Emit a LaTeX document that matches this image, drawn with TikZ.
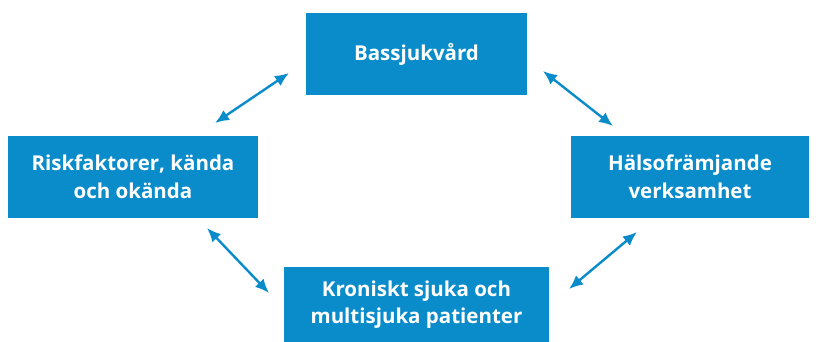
\documentclass[tikz,border=0pt]{standalone}
\usepackage{fontspec}
\setmainfont{Open Sans}
\usetikzlibrary{arrows.meta}
\definecolor{boxblue}{HTML}{0A8BCA}
\begin{document}
\begin{tikzpicture}[x=1pt,y=-1pt,
  box/.style={fill=boxblue,text=white,inner sep=0pt,align=center,font=\fontsize{20.5}{27.5}\selectfont\bfseries},
  link/.style={draw=boxblue,line width=2.4pt,{Latex[length=14pt,width=12pt]}-{Latex[length=14pt,width=12pt]}}]
\useasboundingbox (0,0) rectangle (816,342);
\node[box,minimum width=221pt,minimum height=82pt] (top) at (416.5,54) {Bassjukvård};
\node[box,minimum width=250pt,minimum height=82pt] (left) at (133,177) {Riskfaktorer, kända\\och okända};
\node[box,minimum width=238pt,minimum height=82pt] (right) at (690,177) {Hälsofrämjande\\verksamhet};
\node[box,minimum width=265pt,minimum height=75pt] (bot) at (416.5,304.5) {Kroniskt sjuka och\\multisjuka patienter};
\coordinate (a1) at (215,123); \coordinate (a2) at (289,73);
\coordinate (b1) at (543,71); \coordinate (b2) at (613,126);
\coordinate (c1) at (207,228); \coordinate (c2) at (269,293);
\coordinate (d1) at (569,289); \coordinate (d2) at (637,232);
\draw[link] (a1) -- (a2);
\draw[link] (b1) -- (b2);
\draw[link] (c1) -- (c2);
\draw[link] (d1) -- (d2);
\end{tikzpicture}
\end{document}
